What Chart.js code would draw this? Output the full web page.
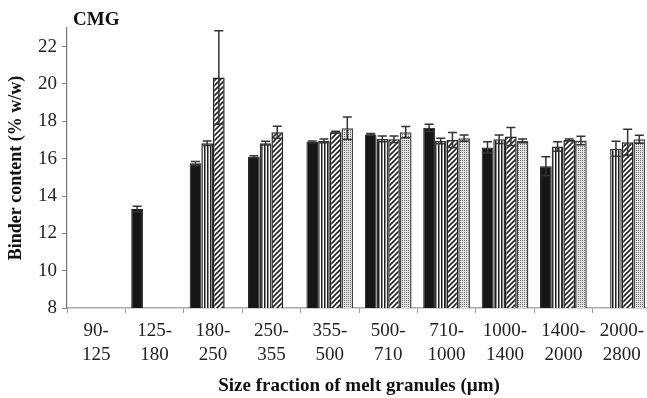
<!DOCTYPE html>
<html>
<head>
<meta charset="utf-8">
<style>
  html, body { margin: 0; padding: 0; background: #fff; overflow: hidden; }
  #wrap { width: 652px; height: 398px; position: relative; }
</style>
</head>
<body>
<div id="wrap"><canvas id="chart"></canvas></div>
<script src="https://cdn.jsdelivr.net/npm/chart.js"></script>
<script>
  const categories = [
    ['90-', '125'], ['125-', '180'], ['180-', '250'], ['250-', '355'], ['355-', '500'],
    ['500-', '710'], ['710-', '1000'], ['1000-', '1400'], ['1400-', '2000'], ['2000-', '2800']
  ];
  const blackVals   = [null, 13.3, 15.75, 16.1, 16.9, 17.3, 17.65, 16.6, 15.6, null];
  const blackErr    = [null, 0.15, 0.1, 0.05, 0.05, 0.05, 0.2, 0.3, 0.5, null];
  const stripeVals  = [null, null, 16.83, 16.83, 16.95, 17.06, 16.95, 17.04, 16.65, 16.53];
  const stripeErr   = [null, null, 0.12, 0.1, 0.1, 0.15, 0.15, 0.23, 0.25, 0.4];
  const hatchVals   = [null, null, 20.35, 17.42, 17.42, 17.04, 17.0, 17.19, 17.0, 16.88];
  const hatchErr    = [null, null, 2.5, 0.32, 0.05, 0.17, 0.4, 0.48, 0.05, 0.7];
  const dotVals     = [null, null, null, null, 17.63, 17.42, 17.1, 16.95, 16.97, 17.04];
  const dotErr      = [null, null, null, null, 0.6, 0.3, 0.17, 0.1, 0.23, 0.22];
  const yTicks      = [8, 10, 12, 14, 16, 18, 20, 22];

  const serif = '"Liberation Serif", "Times New Roman", serif';

  function makePattern(kind) {
    const c = document.createElement('canvas');
    const g = c.getContext('2d');
    if (kind === 'vert') {
      c.width = 3; c.height = 3;
      g.fillStyle = '#fff'; g.fillRect(0, 0, 3, 3);
      g.fillStyle = '#1e1e1e'; g.fillRect(0, 0, 1, 3);
      g.fillStyle = '#8c8c8c'; g.fillRect(1, 0, 1, 3);
    } else if (kind === 'diag') {
      c.width = 5; c.height = 5;
      g.fillStyle = '#fff'; g.fillRect(0, 0, 5, 5);
      g.strokeStyle = '#222'; g.lineWidth = 1.6;
      g.beginPath();
      g.moveTo(0, 5); g.lineTo(5, 0);
      g.moveTo(-1, 1); g.lineTo(1, -1);
      g.moveTo(4, 6); g.lineTo(6, 4);
      g.stroke();
    } else {
      c.width = 2; c.height = 2;
      g.fillStyle = '#e4e4e4'; g.fillRect(0, 0, 2, 2);
      g.fillStyle = '#6e6e6e'; g.fillRect(0, 0, 1, 1);
    }
    return g.createPattern(c, 'repeat');
  }

  const errors = [blackErr, stripeErr, hatchErr, dotErr];

  const errorBars = {
    id: 'errorBars',
    afterDatasetsDraw(chart) {
      const ctx = chart.ctx;
      const y = chart.scales.y;
      ctx.save();
      ctx.strokeStyle = '#333';
      ctx.lineWidth = 1.5;
      chart.data.datasets.forEach((ds, i) => {
        const meta = chart.getDatasetMeta(i);
        meta.data.forEach((bar, j) => {
          const v = ds.data[j];
          const e = errors[i][j];
          if (v == null || e == null) return;
          const yt = y.getPixelForValue(v + e);
          const yb = y.getPixelForValue(v - e);
          ctx.beginPath();
          ctx.moveTo(bar.x, yt); ctx.lineTo(bar.x, yb);
          ctx.moveTo(bar.x - 4.5, yt); ctx.lineTo(bar.x + 4.5, yt);
          ctx.moveTo(bar.x - 4.5, yb); ctx.lineTo(bar.x + 4.5, yb);
          ctx.stroke();
        });
      });
      ctx.fillStyle = '#111';
      ctx.font = 'bold 19px ' + serif;
      ctx.textBaseline = 'alphabetic';
      ctx.fillText('CMG', chart.chartArea.left + 6, 25);
      ctx.restore();
    }
  };

  const ctx = document.getElementById('chart').getContext('2d');
  const chart = new Chart(ctx, {
    type: 'bar',
    data: {
      labels: categories,
      datasets: [
        { label: 'A', data: blackVals, backgroundColor: '#161616', borderColor: '#161616', borderWidth: 1 },
        { label: 'B', data: stripeVals, backgroundColor: makePattern('vert'), borderColor: '#333', borderWidth: 1.5 },
        { label: 'C', data: hatchVals, backgroundColor: makePattern('diag'), borderColor: '#222', borderWidth: 1.5 },
        { label: 'D', data: dotVals, backgroundColor: makePattern('dots'), borderColor: '#444', borderWidth: 1.5 }
      ]
    },
    options: {
      responsive: true,
      maintainAspectRatio: false,
      animation: false,
      datasets: { bar: { categoryPercentage: 0.8, barPercentage: 1.0 } },
      layout: { padding: { top: 28, right: 1, left: 0, bottom: 0 } },
      plugins: { legend: { display: false }, tooltip: { enabled: false } },
      scales: {
        x: {
          afterFit: (s) => { s.height = 90; },
          grid: { drawOnChartArea: false, offset: true, tickLength: 5, color: '#999' },
          border: { color: '#aaa', width: 1.5 },
          ticks: {
            color: '#222', padding: 6, maxRotation: 0, autoSkip: false,
            font: { family: serif, size: 19, lineHeight: 1.27 }
          },
          title: {
            display: true, text: 'Size fraction of melt granules (\u00b5m)', color: '#111',
            font: { family: serif, size: 19, weight: 'bold' }, padding: { top: 0, bottom: 1 }
          }
        },
        y: {
          min: 8, max: 23,
          afterFit: (s) => { s.width = 67; },
          afterBuildTicks: (s) => { s.ticks = yTicks.map(v => ({ value: v })); },
          grid: { drawOnChartArea: false, tickLength: 5, color: '#888' },
          border: { color: '#777', width: 1.2 },
          ticks: { color: '#222', padding: 5, font: { family: serif, size: 19 } },
          title: {
            display: true, text: 'Binder content (% w/w)', color: '#111',
            font: { family: serif, size: 18, weight: 'bold' }, padding: { top: 6, bottom: 0 }
          }
        }
      }
    },
    plugins: [errorBars]
  });
</script>
</body>
</html>
